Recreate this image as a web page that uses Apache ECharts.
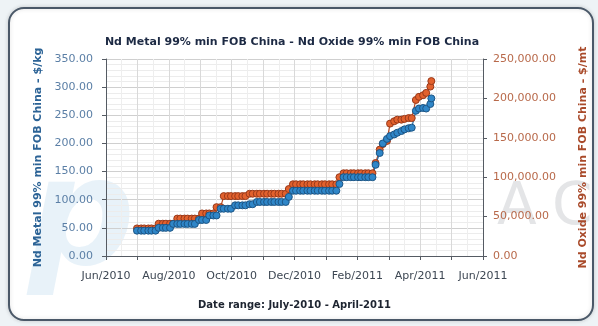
<!DOCTYPE html>
<html>
<head>
<meta charset="utf-8">
<script src="https://cdn.jsdelivr.net/npm/echarts@6/dist/echarts.min.js"></script>
<style>
  html, body { margin: 0; padding: 0; background: #eef3f6; }
  #chart { width: 598px; height: 326px; }
</style>
</head>
<body>
<div id="chart"></div>
<script>
// Price observations (twice weekly), Jul 2010 - Apr 2011
const dates = [
  '2010-07-01','2010-07-05','2010-07-08','2010-07-12','2010-07-15','2010-07-19','2010-07-22','2010-07-26','2010-07-29',
  '2010-08-02','2010-08-05','2010-08-09','2010-08-12','2010-08-16','2010-08-19','2010-08-23','2010-08-26','2010-08-30',
  '2010-09-02','2010-09-06','2010-09-09','2010-09-13','2010-09-16','2010-09-20','2010-09-23','2010-09-27','2010-09-30',
  '2010-10-04','2010-10-07','2010-10-11','2010-10-14','2010-10-18','2010-10-21','2010-10-25','2010-10-28',
  '2010-11-01','2010-11-04','2010-11-08','2010-11-11','2010-11-15','2010-11-18','2010-11-22','2010-11-25','2010-11-29',
  '2010-12-02','2010-12-06','2010-12-09','2010-12-13','2010-12-16','2010-12-20','2010-12-23','2010-12-27','2010-12-30',
  '2011-01-03','2011-01-06','2011-01-10','2011-01-13','2011-01-17','2011-01-20','2011-01-24','2011-01-27','2011-01-31',
  '2011-02-03','2011-02-07','2011-02-10','2011-02-14','2011-02-17','2011-02-21','2011-02-24','2011-02-28',
  '2011-03-03','2011-03-07','2011-03-10','2011-03-14','2011-03-17','2011-03-21','2011-03-24','2011-03-28','2011-03-31',
  '2011-04-04','2011-04-07','2011-04-11','2011-04-12'
];

// Nd Metal 99% min FOB China, $/kg
const metalPrices = [
  45, 45, 45, 45, 45, 45, 50, 50, 50,
  50, 57, 57, 57, 57, 57, 57, 57, 64,
  64, 64, 72, 72, 72, 84, 84, 84, 84,
  90, 90, 90, 90, 92, 92, 96, 96,
  96, 96, 96, 96, 96, 96, 96, 105, 116,
  116, 116, 116, 116, 116, 116, 116, 116, 116,
  116, 116, 116, 128, 140, 140, 140, 140, 140,
  140, 140, 140, 140, 162, 183, 200, 208,
  213, 216, 219, 222, 225, 227, 228, 258, 262,
  263, 262, 270, 280
];

// Nd Oxide 99% min FOB China, $/mt
const oxidePrices = [
  35000, 35000, 35000, 35000, 35000, 35000, 41000, 41000, 41000,
  41000, 41000, 47500, 47500, 47500, 47500, 47500, 47500, 47500,
  54000, 54000, 54000, 54000, 62000, 62000, 76000, 76000, 76000,
  76000, 76000, 76000, 76000, 79000, 79000, 79000, 79000,
  79000, 79000, 79000, 79000, 79000, 79000, 79000, 85000, 91000,
  91000, 91000, 91000, 91000, 91000, 91000, 91000, 91000, 91000,
  91000, 91000, 91000, 100000, 105000, 105000, 105000, 105000, 105000,
  105000, 105000, 105000, 105000, 118000, 135000, 142000, 146000,
  168000, 171000, 173000, 173000, 174000, 175000, 175000, 198000, 202000,
  204000, 207000, 215000, 222000
];

// x axis runs Jun 2010 - Jun 2011, measured in days from its start
const axisStart = '2010-06-01';
const axisEnd = '2011-06-01';
const monthNames = ['Jan','Feb','Mar','Apr','May','Jun','Jul','Aug','Sep','Oct','Nov','Dec'];

const DAY = 86400000;
function toTime(s) {
  const p = s.split('-').map(Number);
  return Date.UTC(p[0], p[1] - 1, p[2]);
}
const t0 = toTime(axisStart);
const spanDays = (toTime(axisEnd) - t0) / DAY;   // 365
const monthStep = spanDays / 12;                  // one tick per month
function dayOf(s) { return (toTime(s) - t0) / DAY; }

function monthLabel(v) {
  const k = Math.round(v / monthStep);
  if (k % 2 !== 0) return '';
  const d = new Date(t0);
  d.setUTCMonth(d.getUTCMonth() + k);
  return monthNames[d.getUTCMonth()] + '/' + d.getUTCFullYear();
}
function fmtMoney(v) {
  return Number(v).toLocaleString('en-US', { minimumFractionDigits: 2, maximumFractionDigits: 2 });
}

const FONT = 'DejaVu Sans';
const chart = echarts.init(document.getElementById('chart'), null, { renderer: 'canvas' });

chart.setOption({
  backgroundColor: '#eef3f6',
  animation: false,
  textStyle: { fontFamily: FONT },
  graphic: [
    {
      type: 'rect', z: -10, silent: true,
      shape: { x: 9, y: 8, width: 584, height: 312, r: 15 },
      style: { fill: '#ffffff', stroke: '#4a5868', lineWidth: 2,
               shadowBlur: 4, shadowColor: 'rgba(0,0,0,0.15)' }
    },
    {
      type: 'text', z: -5, silent: true, left: 28, top: 150,
      style: { text: 'p', font: 'italic bold 150px "DejaVu Sans"', fill: 'rgba(120,180,222,0.17)' }
    },
    {
      type: 'text', z: -5, silent: true, left: 497, top: 180,
      style: { text: 'A', font: '58px "DejaVu Sans"', fill: 'rgba(150,155,162,0.26)' }
    },
    {
      type: 'text', z: -5, silent: true, left: 552, top: 180,
      style: { text: 'C', font: '58px "DejaVu Sans"', fill: 'rgba(150,155,162,0.26)' }
    }
  ],
  title: {
    text: 'Nd Metal 99% min FOB China - Nd Oxide 99% min FOB China',
    left: 287, top: 32, textAlign: 'center',
    textStyle: { fontFamily: FONT, fontSize: 11, fontWeight: 'bold', color: '#1d2a44' }
  },
  grid: { left: 106, right: 115, top: 59, bottom: 70, containLabel: false },
  xAxis: {
    type: 'value',
    min: 0, max: spanDays, interval: monthStep,
    name: 'Date range: July-2010 - April-2011',
    nameLocation: 'middle', nameGap: 44,
    nameTextStyle: { fontFamily: FONT, fontSize: 10, fontWeight: 'bold', color: '#1d2430' },
    axisLine: { show: true, onZero: false, lineStyle: { color: '#555b63', width: 1 } },
    axisTick: { show: true, length: 4, lineStyle: { color: '#555b63' } },
    axisLabel: {
      margin: 15, showMinLabel: true, showMaxLabel: true,
      fontFamily: FONT, fontSize: 11, color: '#3d4753',
      formatter: monthLabel
    },
    splitLine: { show: true, lineStyle: { color: '#d9d9d9', width: 1 } },
    minorTick: { show: false, splitNumber: 2 },
    minorSplitLine: { show: true, lineStyle: { color: '#eeeeee', width: 1 } }
  },
  yAxis: [
    {
      type: 'value', position: 'left', min: 0, max: 350, interval: 50,
      name: 'Nd Metal 99% min FOB China - $/kg',
      nameLocation: 'middle', nameGap: 60, nameRotate: 90,
      nameTextStyle: { fontFamily: FONT, fontSize: 11, fontWeight: 'bold', color: '#2c6396' },
      axisLine: { show: true, lineStyle: { color: '#555b63', width: 1 } },
      axisTick: { show: true, length: 4, lineStyle: { color: '#555b63' } },
      axisLabel: { margin: 13, fontFamily: FONT, fontSize: 11, color: '#5b7fa6',
                   formatter: v => fmtMoney(v) },
      splitLine: { show: true, lineStyle: { color: '#cfcfcf', width: 1 } },
      minorTick: { show: false, splitNumber: 5 },
      minorSplitLine: { show: true, lineStyle: { color: '#ececec', width: 1 } }
    },
    {
      type: 'value', position: 'right', min: 0, max: 250000, interval: 50000,
      name: 'Nd Oxide 99% min FOB China - $/mt',
      nameLocation: 'middle', nameGap: 95, nameRotate: 90,
      nameTextStyle: { fontFamily: FONT, fontSize: 11, fontWeight: 'bold', color: '#a94a2a' },
      axisLine: { show: true, lineStyle: { color: '#555b63', width: 1 } },
      axisTick: { show: true, length: 4, lineStyle: { color: '#555b63' } },
      axisLabel: { margin: 10, fontFamily: FONT, fontSize: 11, color: '#b8694a',
                   formatter: v => fmtMoney(v) },
      splitLine: { show: false }
    }
  ],
  series: [
    {
      name: 'Nd Oxide 99% min FOB China',
      type: 'line', yAxisIndex: 1, z: 3,
      data: dates.map((d, i) => [dayOf(d), oxidePrices[i]]),
      symbol: 'circle', symbolSize: 7, showAllSymbol: true,
      lineStyle: { color: '#b84a22', width: 1.2 },
      itemStyle: { color: '#e2612d', borderColor: '#98391a', borderWidth: 1 }
    },
    {
      name: 'Nd Metal 99% min FOB China',
      type: 'line', yAxisIndex: 0, z: 3,
      data: dates.map((d, i) => [dayOf(d), metalPrices[i]]),
      symbol: 'circle', symbolSize: 7, showAllSymbol: true,
      lineStyle: { color: '#236aa6', width: 1.2 },
      itemStyle: { color: '#2f86c8', borderColor: '#1c5585', borderWidth: 1 }
    }
  ]
});
</script>
</body>
</html>
